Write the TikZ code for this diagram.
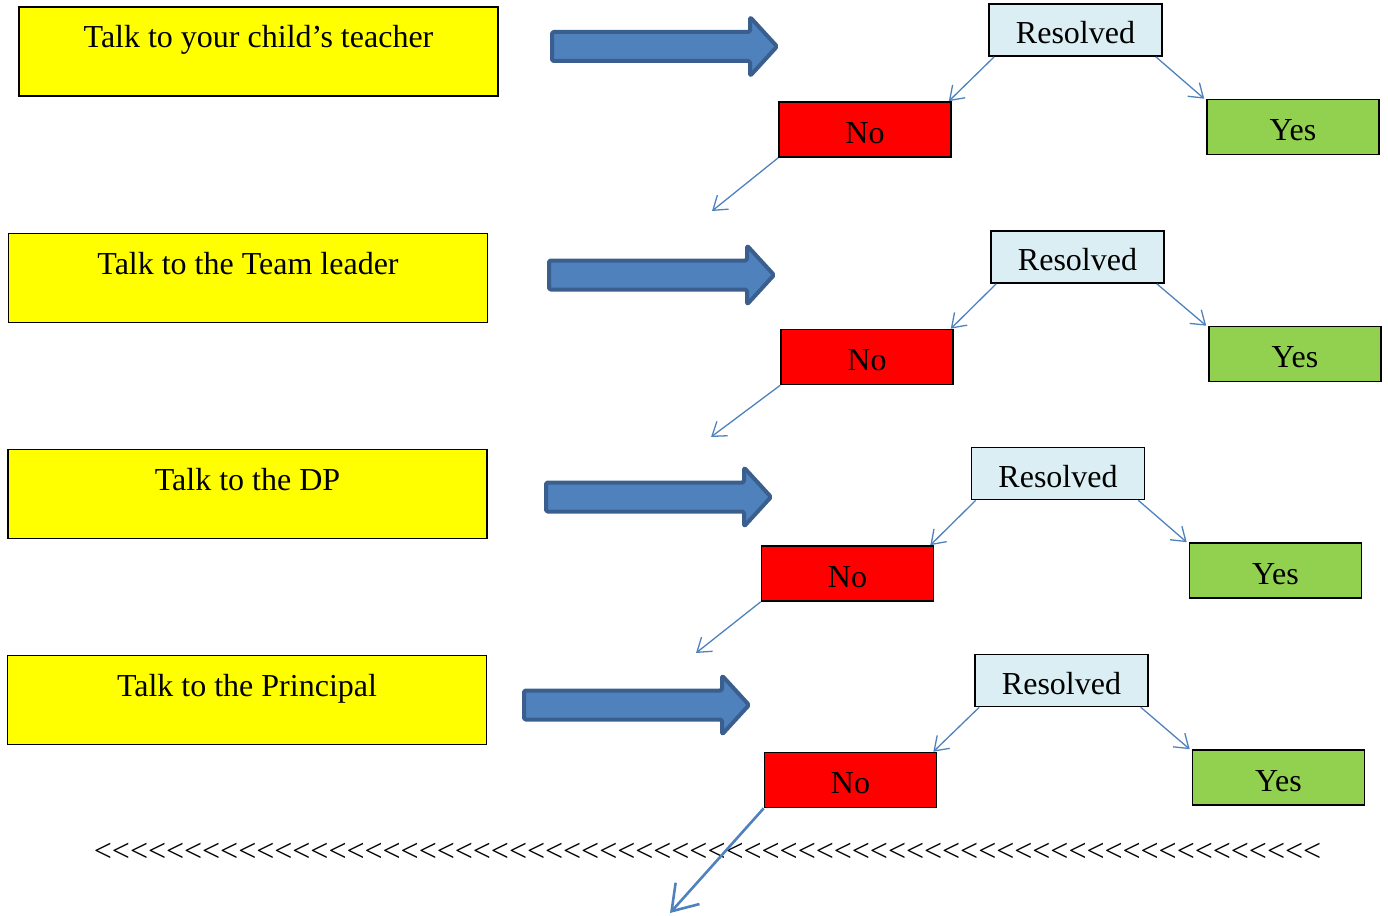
\documentclass[tikz,border=0pt]{standalone}
\usepackage{fontspec}
\setmainfont{Liberation Serif}
\newfontfamily\chevfont{Liberation Serif}[Ligatures=TeXOff]
\usetikzlibrary{arrows.meta}
\definecolor{yelfill}{HTML}{FFFF00}
\definecolor{resfill}{HTML}{DAEEF3}
\definecolor{nofill}{HTML}{FF0000}
\definecolor{yesfill}{HTML}{92D050}
\definecolor{linkblue}{HTML}{4F81BD}
\definecolor{arrowfill}{HTML}{4F81BD}
\definecolor{arrowedge}{HTML}{3A5F8E}
\newcommand{\blockarrow}[2]{%
  \draw[bigarrow] (#1+2,#2+17) -- (#1+200,#2+17) -- (#1+200,#2+2) -- (#1+227,#2+31.5)
    -- (#1+200,#2+61) -- (#1+200,#2+46) -- (#1+2,#2+46) -- cycle;}
\begin{document}
\begin{tikzpicture}[x=1pt,y=-1pt,
  every node/.style={inner sep=0pt, font=\fontsize{32}{36}\selectfont},
  box/.style={draw=black, line width=1.6pt, text height=27pt, text depth=0pt},
  talkbox/.style={box, fill=yelfill, minimum width=479pt, minimum height=89pt, text height=21pt, text depth=29pt},
  resbox/.style={box, fill=resfill, minimum width=173pt, minimum height=52pt},
  nobox/.style={box, fill=nofill, minimum width=172pt, minimum height=55pt},
  yesbox/.style={box, fill=yesfill, minimum width=172pt, minimum height=55pt},
  link/.style={draw=linkblue, line width=1.3pt, -{Straight Barb[length=13pt,width=18pt,line width=1.3pt]}},
  biglink/.style={draw=linkblue, line width=2.6pt, -{Straight Barb[length=24pt,width=32pt,line width=2.6pt]}},
  bigarrow/.style={fill=arrowfill, draw=arrowedge, line width=4pt, line join=round, rounded corners=1.5pt}]
\useasboundingbox (0,0) rectangle (1388,915);

% Row 1
\node[talkbox] (t1) at (258.5,51.5) {Talk to your child’s teacher};
\blockarrow{550}{15}
\node[resbox] (r1) at (1075.5,30) {Resolved};
\node[nobox] (n1) at (865,129.5) {No};
\node[yesbox] (y1) at (1293,127) {Yes};
\coordinate (d1) at (712,211);
\draw[link] ([xshift=6pt]r1.south west) -- ([xshift=-3pt]n1.north east);
\draw[link] ([xshift=-7pt]r1.south east) -- ([xshift=-2pt]y1.north west);
\draw[link] (n1.south west) -- (d1);

% Row 2
\node[talkbox] (t2) at (248,278) {Talk to the Team leader};
\blockarrow{547}{243.5}
\node[resbox] (r2) at (1077.5,257) {Resolved};
\node[nobox] (n2) at (867,357) {No};
\node[yesbox] (y2) at (1295,354) {Yes};
\coordinate (d2) at (711,437);
\draw[link] ([xshift=6pt]r2.south west) -- ([xshift=-3pt]n2.north east);
\draw[link] ([xshift=-8pt]r2.south east) -- ([xshift=-2pt]y2.north west);
\draw[link] (n2.south west) -- (d2);

% Row 3
\node[talkbox] (t3) at (247.5,494) {Talk to the DP};
\blockarrow{544}{465.5}
\node[resbox] (r3) at (1058,473.5) {Resolved};
\node[nobox] (n3) at (847.5,573.5) {No};
\node[yesbox] (y3) at (1275.5,570.5) {Yes};
\coordinate (d3) at (696,653);
\draw[link] ([xshift=5pt]r3.south west) -- ([xshift=-4pt]n3.north east);
\draw[link] ([xshift=-7pt]r3.south east) -- ([xshift=-2pt]y3.north west);
\draw[link] (n3.south west) -- (d3);

% Row 4
\node[talkbox] (t4) at (247,700) {Talk to the Principal};
\blockarrow{522}{673.5}
\node[resbox] (r4) at (1061.5,680.5) {Resolved};
\node[nobox] (n4) at (850.5,780) {No};
\node[yesbox] (y4) at (1278.5,777.5) {Yes};
\draw[link] ([xshift=5pt]r4.south west) -- ([xshift=-4pt]n4.north east);
\draw[link] ([xshift=-8pt]r4.south east) -- ([xshift=-2pt]y4.north west);

% chevron line
\node[font=\chevfont\fontsize{32}{36}\selectfont] (chev) at (707.5,852) {<<<<<<<<<<<<<<<<<<<<<<<<<<<<<<<<<<<<<<<<<<<<<<<<<<<<<<<<<<<<<<<<<<<<};
\coordinate (d4) at (670,913);
\draw[biglink] (n4.south west) -- (d4);
\end{tikzpicture}
\end{document}
